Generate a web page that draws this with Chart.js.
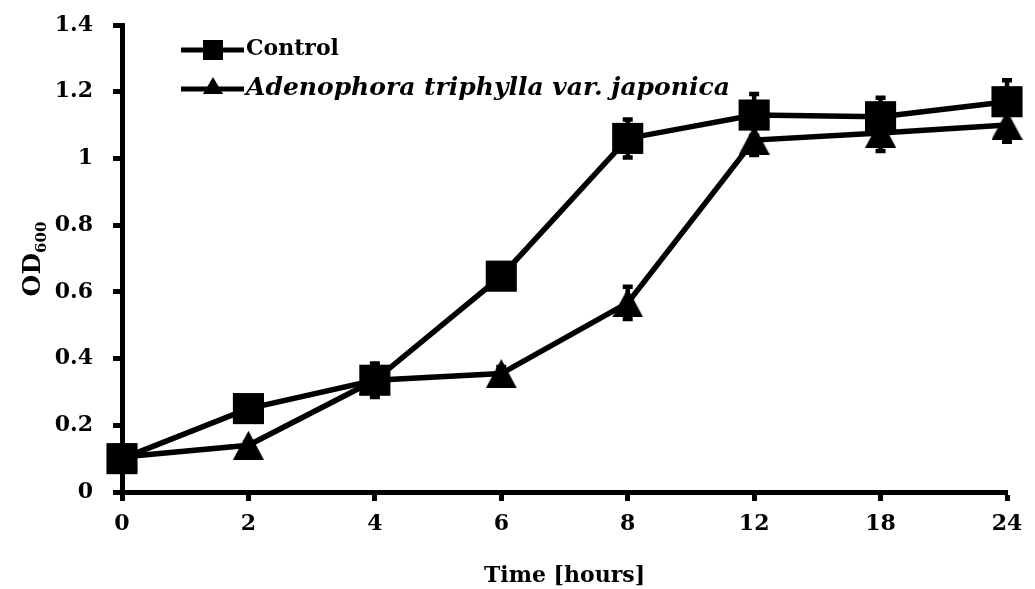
<!DOCTYPE html>
<html>
<head>
<meta charset="utf-8">
<script src="https://cdn.jsdelivr.net/npm/chart.js@4.4.1/dist/chart.umd.min.js"></script>
<style>
  html, body { margin: 0; padding: 0; background: #fff; }
  canvas { display: block; }
</style>
</head>
<body>
<canvas id="growthChart" width="1035" height="589"></canvas>
<script>
const hours = ['0', '2', '4', '6', '8', '12', '18', '24'];
const controlOD = [0.10, 0.25, 0.335, 0.647, 1.06, 1.13, 1.125, 1.17];
const controlErr = [0.01, 0.01, 0.05, 0.02, 0.057, 0.063, 0.057, 0.064];
const extractOD = [0.105, 0.14, 0.335, 0.355, 0.567, 1.055, 1.076, 1.10];
const extractErr = [0.01, 0.01, 0.01, 0.02, 0.048, 0.045, 0.054, 0.05];
const yTicks = [0, 0.2, 0.4, 0.6, 0.8, 1, 1.2, 1.4];

const FONT = '"DejaVu Serif", serif';

// triangle marker centred on its bounding box
function makeTriangle(w, h) {
    const c = document.createElement('canvas');
    c.width = w; c.height = h;
    const g = c.getContext('2d');
    g.fillStyle = '#000';
    g.beginPath();
    g.moveTo(w / 2, 0);
    g.lineTo(w, h);
    g.lineTo(0, h);
    g.closePath();
    g.fill();
    return c;
}
const bigTri = makeTriangle(31, 29);
const smallTri = makeTriangle(20, 17);

// error bars, drawn under the markers
const errorBars = {
    id: 'errorBars',
    beforeDatasetsDraw(chart) {
        const ctx = chart.ctx;
        const y = chart.scales.y;
        const errs = [controlErr, extractErr];
        ctx.save();
        ctx.strokeStyle = '#000';
        ctx.lineWidth = 4.5;
        chart.data.datasets.forEach((ds, i) => {
            chart.getDatasetMeta(i).data.forEach((pt, j) => {
                const v = ds.data[j], e = errs[i][j];
                const top = y.getPixelForValue(v + e);
                const bot = y.getPixelForValue(v - e);
                ctx.beginPath();
                ctx.moveTo(pt.x, top); ctx.lineTo(pt.x, bot);
                ctx.moveTo(pt.x - 5, top); ctx.lineTo(pt.x + 5, top);
                ctx.moveTo(pt.x - 5, bot); ctx.lineTo(pt.x + 5, bot);
                ctx.stroke();
            });
        });
        ctx.restore();
    }
};

// legend box and rotated y title with subscript
const annotations = {
    id: 'annotations',
    afterDraw(chart) {
        const ctx = chart.ctx;
        ctx.save();
        ctx.fillStyle = '#000';
        ctx.strokeStyle = '#000';
        ctx.lineWidth = 5;

        // legend rows
        const rows = [
            { y: 50, text: 'Control', italic: false, marker: 'rect', size: 22 },
            { y: 89, text: 'Adenophora triphylla var. japonica', italic: true, marker: 'tri', size: 25 }
        ];
        rows.forEach(r => {
            ctx.beginPath();
            ctx.moveTo(181, r.y);
            ctx.lineTo(244, r.y);
            ctx.stroke();
            if (r.marker === 'rect') {
                ctx.fillRect(213 - 10, r.y - 10, 20, 20);
            } else {
                ctx.drawImage(smallTri, 213 - 10, r.y - 12);
            }
            ctx.font = (r.italic ? 'italic ' : '') + 'bold ' + r.size + 'px ' + FONT;
            ctx.textBaseline = 'middle';
            ctx.textAlign = 'left';
            ctx.fillText(r.text, 246, r.y - 1);
        });

        // OD600 axis title
        ctx.translate(32, 259);
        ctx.rotate(-Math.PI / 2);
        ctx.textBaseline = 'alphabetic';
        ctx.font = 'bold 25px ' + FONT;
        const w1 = ctx.measureText('OD').width;
        ctx.font = 'bold 15px ' + FONT;
        const w2 = ctx.measureText('600').width;
        const x0 = -(w1 + w2) / 2;
        ctx.font = 'bold 25px ' + FONT;
        ctx.fillText('OD', x0, 8);
        ctx.font = 'bold 15px ' + FONT;
        ctx.fillText('600', x0 + w1, 14);
        ctx.restore();
    }
};

const tickFont = { family: FONT, size: 22, weight: 'bold' };

new Chart(document.getElementById('growthChart').getContext('2d'), {
    type: 'line',
    data: {
        labels: hours,
        datasets: [{
            label: 'Control',
            data: controlOD,
            borderColor: '#000',
            backgroundColor: '#000',
            borderWidth: 5.5,
            pointStyle: 'rect',
            pointRadius: 22,
            pointBorderWidth: 0,
            clip: false
        }, {
            label: 'Adenophora triphylla var. japonica',
            data: extractOD,
            borderColor: '#000',
            backgroundColor: '#000',
            borderWidth: 5.5,
            pointStyle: bigTri,
            pointRadius: 16,
            clip: false
        }]
    },
    options: {
        responsive: false,
        devicePixelRatio: 1,
        animation: false,
        layout: { padding: { top: 25, right: 28, left: 0, bottom: 0 } },
        plugins: {
            legend: { display: false },
            tooltip: { enabled: false }
        },
        scales: {
            x: {
                offset: false,
                grid: { drawOnChartArea: false, tickLength: 9, tickWidth: 5, tickColor: '#000' },
                border: { width: 5, color: '#000' },
                ticks: { font: tickFont, color: '#000', padding: 10, maxRotation: 0 },
                title: {
                    display: true,
                    text: 'Time [hours]',
                    font: tickFont,
                    color: '#000',
                    padding: { top: 4, bottom: 0 }
                },
                afterFit(scale) { scale.height = 97; }
            },
            y: {
                min: 0,
                max: 1.4,
                grid: { drawOnChartArea: false, tickLength: 9, tickWidth: 5, tickColor: '#000' },
                border: { width: 5, color: '#000' },
                ticks: {
                    font: tickFont,
                    color: '#000',
                    padding: 20,
                    stepSize: 0.2,
                    callback: v => String(Number(v.toFixed(1)))
                },
                afterBuildTicks(scale) { scale.ticks = yTicks.map(v => ({ value: v })); },
                afterFit(scale) {
                    scale.width = 122;
                    scale.paddingTop = 0;
                    scale.paddingBottom = 0;
                }
            }
        }
    },
    plugins: [errorBars, annotations]
});
</script>
</body>
</html>
